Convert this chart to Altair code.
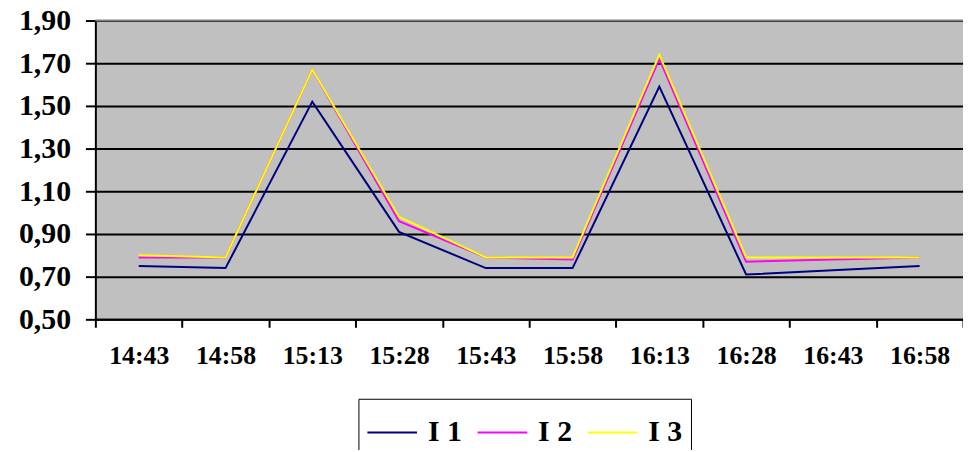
import altair as alt
import pandas as pd

times = ["14:43", "14:58", "15:13", "15:28", "15:43", "15:58", "16:13", "16:28", "16:43", "16:58"]
i1 = [0.75, 0.74, 1.52, 0.91, 0.74, 0.74, 1.59, 0.71, 0.73, 0.75]
i2 = [0.79, 0.79, 1.67, 0.96, 0.79, 0.78, 1.72, 0.77, 0.78, 0.79]
i3 = [0.80, 0.79, 1.67, 0.98, 0.79, 0.79, 1.74, 0.79, 0.79, 0.79]
series_names = ["I 1", "I 2", "I 3"]
series_colors = ["#000080", "#FF00FF", "#FFFF00"]
y_ticks = [0.5, 0.7, 0.9, 1.1, 1.3, 1.5, 1.7, 1.9]

rows = []
for name, vals in zip(series_names, [i1, i2, i3]):
    for t, v in zip(times, vals):
        rows.append({"time": t, "series": name, "value": v})
df = pd.DataFrame(rows)

W, H = 874, 301
FONT = "Liberation Serif"

lines = alt.Chart(df).mark_line(strokeWidth=2).encode(
    x=alt.X("time:O", sort=times, bandPosition=0.5,
            scale=alt.Scale(type="band", paddingInner=0, paddingOuter=0),
            axis=alt.Axis(title=None, labelAngle=0, tickBand="extent",
                          labelFont=FONT, labelFontWeight="bold", labelFontSize=26,
                          labelColor="black", labelPadding=15, tickSize=8,
                          tickColor="black", tickWidth=2, domainColor="black",
                          domainWidth=2, grid=False)),
    y=alt.Y("value:Q", scale=alt.Scale(domain=[0.5, 1.9], nice=False, zero=False),
            axis=alt.Axis(title=None, values=y_ticks,
                          labelExpr="replace(format(datum.value, '.2f'), '.', ',')",
                          labelFont=FONT, labelFontWeight="bold", labelFontSize=30,
                          labelColor="black", labelPadding=15, tickSize=10,
                          tickColor="black", tickWidth=2, domainColor="black",
                          domainWidth=2, grid=True, gridColor="black", gridWidth=2)),
    color=alt.Color("series:N", sort=series_names,
                    scale=alt.Scale(domain=series_names, range=series_colors),
                    legend=alt.Legend(title=None, orient="none", direction="horizontal",
                                      legendX=265, legendY=381,
                                      symbolType="stroke", symbolSize=2500,
                                      symbolStrokeWidth=2,
                                      labelFont=FONT, labelFontWeight="bold",
                                      labelFontSize=30, labelColor="black",
                                      labelOffset=10, columnPadding=11,
                                      strokeColor="black", fillColor="white",
                                      padding=8)),
    order=alt.Order("series:N"),
)

top_border = alt.Chart(pd.DataFrame({"a": [0]})).mark_rule(color="#808080", strokeWidth=2).encode(
    x=alt.value(0), x2=alt.value(W), y=alt.value(0)
)

chart = alt.layer(lines, top_border).properties(
    width=W, height=H,
    autosize=alt.AutoSizeParams(type="none"),
    padding={"left": 88, "top": 11, "right": 0, "bottom": 130},
).configure_view(fill="#C0C0C0", stroke=None)

chart.save("out.html", embed_options={"renderer": "svg", "actions": False})
